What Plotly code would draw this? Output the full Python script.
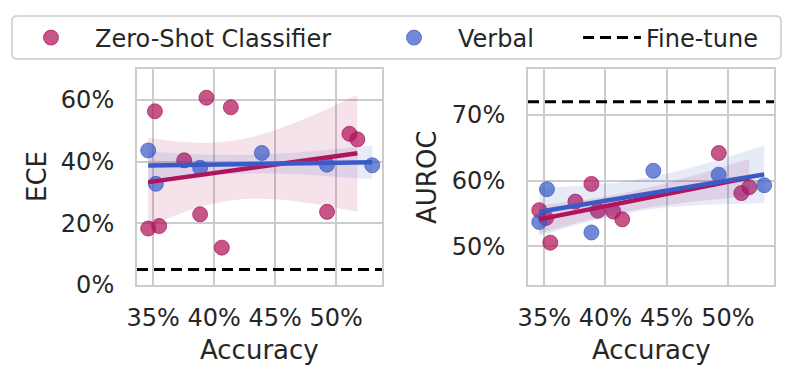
import numpy as np
import plotly.graph_objects as go

# ---------------- data ----------------
acc_zs = [0.3459, 0.3514, 0.3549, 0.3754, 0.3885, 0.3937, 0.4063, 0.4137, 0.4926, 0.5110, 0.5175]
ece_zs = [0.183, 0.563, 0.191, 0.404, 0.229, 0.607, 0.121, 0.576, 0.237, 0.490, 0.472]
auroc_zs = [0.555, 0.543, 0.5055, 0.568, 0.595, 0.554, 0.553, 0.541, 0.642, 0.581, 0.590]

acc_vb = [0.3459, 0.3522, 0.3885, 0.4391, 0.4925, 0.5297]
ece_vb = [0.436, 0.328, 0.380, 0.428, 0.390, 0.388]
auroc_vb = [0.537, 0.587, 0.521, 0.615, 0.609, 0.593]

finetune_ece = 0.05
finetune_auroc = 0.72

x_ticks = [0.35, 0.40, 0.45, 0.50]
series_names = ["Zero-Shot Classifier", "Verbal", "Fine-tune"]

# ---------------- style ----------------
RED = (176, 20, 90)
BLUE = (58, 91, 199)
W, H = 797, 382
FONT = "DejaVu Sans"
TXT = "#262626"
GRID = "#cccccc"
BAND_Z = 1.7  # width of the confidence band around the fitted line


def rgba(c, a):
    return f"rgba({c[0]},{c[1]},{c[2]},{a})"


def fit_band(x, y, n=120):
    x = np.asarray(x, float)
    y = np.asarray(y, float)
    b, a = np.polyfit(x, y, 1)
    xs = np.linspace(x.min(), x.max(), n)
    yhat = a + b * xs
    resid = y - (a + b * x)
    s = np.sqrt(np.sum(resid ** 2) / (len(x) - 2))
    se = s * np.sqrt(1 / len(x) + (xs - x.mean()) ** 2 / np.sum((x - x.mean()) ** 2))
    return xs, yhat, yhat - BAND_Z * se, yhat + BAND_Z * se


def px_x(p):
    return p / W


def px_y(p):
    return 1 - p / H


fig = go.Figure()

panels = [
    ("x", "y", ece_zs, ece_vb, finetune_ece),
    ("x2", "y2", auroc_zs, auroc_vb, finetune_auroc),
]

line_traces = []
for i, (xa, ya, yz, yv, ft) in enumerate(panels):
    for (xv, yvals, col, name, leg) in [
        (acc_zs, yz, RED, series_names[0], "legend"),
        (acc_vb, yv, BLUE, series_names[1], "legend2"),
    ]:
        fig.add_trace(go.Scatter(
            x=xv, y=yvals, mode="markers", xaxis=xa, yaxis=ya,
            name=name, legend=leg, showlegend=(i == 0),
            marker=dict(size=15, color=rgba(col, 0.72),
                        line=dict(width=1, color=rgba(col, 0.72))),
            hoverinfo="skip",
        ))
        xs, yh, lo, hi = fit_band(xv, yvals)
        fig.add_trace(go.Scatter(
            x=list(xs) + list(xs[::-1]), y=list(hi) + list(lo[::-1]),
            mode="lines", fill="toself", fillcolor=rgba(col, 0.12),
            line=dict(width=0, color=rgba(col, 0)), xaxis=xa, yaxis=ya,
            showlegend=False, hoverinfo="skip",
        ))
        line_traces.append(go.Scatter(
            x=xs, y=yh, mode="lines", xaxis=xa, yaxis=ya,
            line=dict(color=rgba(col, 1), width=4.5),
            showlegend=False, hoverinfo="skip",
        ))
    # fine-tune reference line
    fig.add_shape(type="line", xref=f"{xa} domain", yref=ya,
                  x0=0, x1=1, y0=ft, y1=ft,
                  line=dict(color="black", width=3, dash="11px,6px"))

for t in line_traces:
    fig.add_trace(t)

# legend entry for the fine-tune line
fig.add_trace(go.Scatter(
    x=[None], y=[None], mode="lines", name=series_names[2], legend="legend3",
    line=dict(color="black", width=3, dash="11px,6px"),
))

xcommon = dict(range=[0.3367, 0.5377], tickvals=x_ticks, tickformat=".0%",
               showgrid=True, gridcolor=GRID, gridwidth=1.6, zeroline=False,
               showline=True, linecolor=GRID, linewidth=2, mirror=True,
               ticks="", ticklabelstandoff=10, automargin=False,
               tickfont=dict(family=FONT, size=24, color=TXT))
ycommon = dict(showgrid=True, gridcolor=GRID, gridwidth=1.6, zeroline=False,
               showline=True, linecolor=GRID, linewidth=2, mirror=True,
               ticks="", ticklabelstandoff=16, tickformat=".0%", automargin=False,
               tickfont=dict(family=FONT, size=24, color=TXT))

ydom = [px_y(285), px_y(69)]
legfont = dict(family=FONT, size=24, color=TXT)
legcommon = dict(orientation="h", yanchor="middle", xanchor="left", y=px_y(38),
                 bgcolor="rgba(0,0,0,0)", borderwidth=0, font=legfont)

fig.update_layout(
    template="none",
    width=W, height=H, margin=dict(l=0, r=0, t=0, b=0, autoexpand=False),
    paper_bgcolor="white", plot_bgcolor="white",
    font=dict(family=FONT, size=24, color=TXT),
    xaxis=dict(domain=[px_x(137), px_x(382)], anchor="y", **xcommon),
    yaxis=dict(domain=ydom, anchor="x", range=[0, 0.70],
               tickvals=[0, 0.2, 0.4, 0.6], **ycommon),
    xaxis2=dict(domain=[px_x(528), px_x(774)], anchor="y2", **xcommon),
    yaxis2=dict(domain=ydom, anchor="x2", range=[0.441, 0.770],
                tickvals=[0.5, 0.6, 0.7], **ycommon),
    legend=dict(x=px_x(7), itemwidth=78, **legcommon),
    legend2=dict(x=px_x(370), itemwidth=78, **legcommon),
    legend3=dict(x=px_x(578), itemwidth=58, **legcommon),
    showlegend=True,
)

# legend frame (rounded)
x0, x1, y0, y1, r = 12, 781, 16, 59, 5
path = (f"M {px_x(x0 + r)},{px_y(y0)} L {px_x(x1 - r)},{px_y(y0)} "
        f"Q {px_x(x1)},{px_y(y0)} {px_x(x1)},{px_y(y0 + r)} "
        f"L {px_x(x1)},{px_y(y1 - r)} Q {px_x(x1)},{px_y(y1)} {px_x(x1 - r)},{px_y(y1)} "
        f"L {px_x(x0 + r)},{px_y(y1)} Q {px_x(x0)},{px_y(y1)} {px_x(x0)},{px_y(y1 - r)} "
        f"L {px_x(x0)},{px_y(y0 + r)} Q {px_x(x0)},{px_y(y0)} {px_x(x0 + r)},{px_y(y0)} Z")
fig.add_shape(type="path", xref="paper", yref="paper", path=path,
              line=dict(color=GRID, width=1.5), fillcolor="white", layer="below")

# axis titles
labels = [
    ("ECE", 37, (69 + 285) / 2, -90),
    ("AUROC", 427, (69 + 285) / 2, -90),
    ("Accuracy", (137 + 382) / 2, 350, 0),
    ("Accuracy", (528 + 774) / 2, 350, 0),
]
for txt, lx, ly, ang in labels:
    fig.add_annotation(text=txt, x=px_x(lx), y=px_y(ly), xref="paper", yref="paper",
                       showarrow=False, textangle=ang, xanchor="center", yanchor="middle",
                       font=dict(family=FONT, size=26, color=TXT))

fig.write_html("out.html",
               config={"displayModeBar": False},
               post_script="document.body.style.margin='0px';"
                           "document.body.style.padding='0px';"
                           "document.body.style.overflow='hidden';")
